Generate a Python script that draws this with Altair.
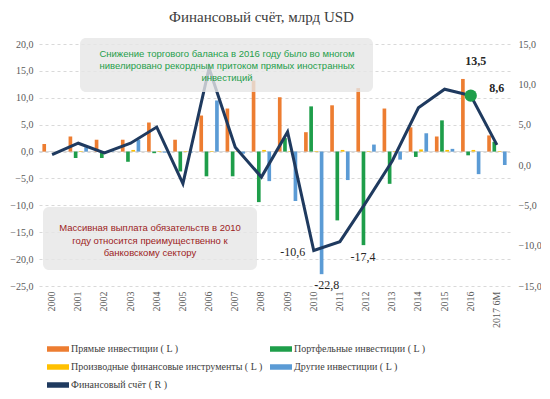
import altair as alt
import pandas as pd

# ---------------- data ----------------
cats = ["2000", "2001", "2002", "2003", "2004", "2005", "2006", "2007", "2008",
        "2009", "2010", "2011", "2012", "2013", "2014", "2015", "2016", "2017 6M"]
direct = [1.4, 2.8, 2.2, 2.2, 5.4, 2.2, 6.7, 8.0, 13.2, 10.1, 3.6, 8.6, 11.8, 8.0, 4.5, 2.8, 13.5, 3.0]
portfolio = [0.0, -1.2, -1.2, -1.9, -0.3, -3.7, -4.6, -4.6, -9.4, 2.5, 8.4, -12.8, -17.4, -6.0, -1.0, 5.8, -0.7, 1.8]
derivatives = [0.0, 0.1, 0.1, 0.3, 0.1, 0.1, 0.1, 0.1, 0.3, 0.1, 0.1, 0.3, 0.1, 0.1, 0.4, 0.3, 0.3, 0.1]
other = [0.0, 0.8, 0.1, 2.2, -0.2, -0.2, 9.5, -0.4, -5.5, -9.2, -22.8, -5.3, 1.3, -1.5, 3.4, 0.5, -4.2, -2.5]
fin_account = [1.3, 2.7, 1.5, 2.7, 4.7, -2.3, 12.0, 2.2, -1.5, 4.1, -10.6, -9.5, -4.6, 0.5, 7.1, 9.4, 8.6, 2.5]

series_names = ["Прямые инвестиции ( L )", "Портфельные инвестиции ( L )",
                "Производные финансовые  инструменты ( L )", "Другие инвестиции ( L )"]
line_name = "Финансовый счёт ( R )"
left_ticks = [-25, -20, -15, -10, -5, 0, 5, 10, 15, 20]
right_ticks = [-15, -10, -5, 0, 5, 10, 15]

title_text = "Финансовый счёт, млрд USD"
note1 = "Снижение торгового баланса в 2016 году было во многом\nнивелировано рекордным притоком прямых иностранных\nинвестиций"
note2 = "Массивная выплата обязательств в 2010\nгоду относится преимущественно к\nбанковскому сектору"

# ---------------- styling ----------------
colors = ["#ED7D31", "#1E9E4A", "#FFC000", "#5B9BD5"]
line_color = "#1F3A5F"
serif = "Liberation Serif"
sans = "Liberation Sans"


def fmt(v):
    return f"{v:.1f}".replace(".", ",")


rows = []
for i, c in enumerate(cats):
    for s, vals in zip(series_names, [direct, portfolio, derivatives, other]):
        rows.append({"cat": c, "series": s, "value": vals[i], "label": fmt(vals[i])})
bars_df = pd.DataFrame(rows)
line_df = pd.DataFrame({"cat": cats, "value": fin_account,
                        "label": [fmt(v) for v in fin_account]})
zero_df = pd.DataFrame({"value": [0]})

label_expr = "replace(format(datum.value, '.1f'), '.', ',')"

x_axis = alt.Axis(title=None, labelAngle=-90, domain=False, ticks=False,
                  labelPadding=5, labelFont=serif, labelFontSize=10,
                  labelColor="#595959", labelOverlap=False)
x_scale = alt.Scale(paddingInner=0.26, paddingOuter=0.13)
x_enc = alt.X("cat:N", sort=cats, scale=x_scale, axis=x_axis)

y_left = alt.Y("value:Q", scale=alt.Scale(domain=[-25, 20], nice=False, zero=False),
               axis=alt.Axis(title=None, values=left_ticks, labelExpr=label_expr,
                             grid=True, gridColor="#d9d9d9", gridDash=[3, 3],
                             labelOverlap=False, labelFont=serif, labelFontSize=10,
                             labelColor="#595959",
                             domain=False, ticks=False, labelPadding=6))

y_right = alt.Y("value:Q", scale=alt.Scale(domain=[-15, 15], nice=False, zero=False),
                axis=alt.Axis(title=None, orient="right", values=right_ticks,
                              labelExpr=label_expr, grid=False, domain=False,
                              labelOverlap=False, labelFont=serif, labelFontSize=10,
                              labelColor="#595959", ticks=False, labelPadding=8))

zero_rule = alt.Chart(zero_df).mark_rule(color="#d9d9d9", strokeWidth=1).encode(y=y_left)

bars = alt.Chart(bars_df).mark_bar().encode(
    x=x_enc,
    xOffset=alt.XOffset("series:N", sort=series_names,
                        scale=alt.Scale(paddingInner=0.3)),
    y=y_left,
    color=alt.Color("series:N",
                    scale=alt.Scale(domain=series_names + [line_name],
                                    range=colors + [line_color]),
                    legend=alt.Legend(title=None, orient="none", legendX=8, legendY=294,
                                      columns=2, direction="horizontal",
                                      symbolType="M-1,-0.25H1V0.25H-1Z", symbolSize=484,
                                      symbolStrokeWidth=0, labelFont=serif,
                                      labelFontSize=10, labelColor="#404040",
                                      labelOffset=2, columnPadding=4, rowPadding=2,
                                      labelLimit=400)),
)


def bar_label(cat, series, dx, dy, bold):
    return alt.Chart(bars_df).transform_filter(
        (alt.datum.cat == cat) & (alt.datum.series == series)
    ).mark_text(font=serif, fontSize=12, fontWeight="bold" if bold else "normal",
                color="#262626", dx=dx, dy=dy).encode(
        x=x_enc, y=y_left, text="label:N")


lbl_135 = bar_label("2016", series_names[0], 5, -18, True)
lbl_228 = bar_label("2010", series_names[3], 13, 11, False)
lbl_174 = bar_label("2012", series_names[1], -3, 12, False)

left = alt.layer(zero_rule, bars, lbl_135, lbl_228, lbl_174)

line = alt.Chart(line_df).mark_line(color=line_color, strokeWidth=3).encode(
    x=x_enc, y=y_right)

dot = alt.Chart(line_df).transform_filter(alt.datum.cat == "2016").mark_point(
    filled=True, size=150, color="#1E9E4A", opacity=1).encode(
    x=x_enc, y=y_right)


def line_label(cat, dx, dy, bold):
    return alt.Chart(line_df).transform_filter(alt.datum.cat == cat).mark_text(
        font=serif, fontSize=12, fontWeight="bold" if bold else "normal",
        color="#262626", dx=dx, dy=dy).encode(
        x=x_enc, y=y_right, text="label:N")


lbl_106 = line_label("2010", -21, 1, False)
lbl_86 = line_label("2016", 26, -8, True)

right = alt.layer(line, dot, lbl_106, lbl_86)

one = pd.DataFrame({"k": [0]})
box1 = alt.Chart(one).mark_rect(fill="#e6e6e6", opacity=0.8, cornerRadius=6).encode(
    x=alt.value(41), x2=alt.value(334), y=alt.value(-6), y2=alt.value(48))
box2 = alt.Chart(one).mark_rect(fill="#e6e6e6", opacity=0.8, cornerRadius=6).encode(
    x=alt.value(4), x2=alt.value(218), y=alt.value(163), y2=alt.value(226))
txt1 = alt.Chart(one).mark_text(text=note1, lineBreak="\n", lineHeight=12,
                                font=sans, fontSize=9.5, color="#1E9E4A",
                                align="center", baseline="middle").encode(
    x=alt.value(188), y=alt.value(10))
txt2 = alt.Chart(one).mark_text(text=note2, lineBreak="\n", lineHeight=12.5,
                                font=sans, fontSize=9.5, color="#9C1C1C",
                                align="center", baseline="middle").encode(
    x=alt.value(111), y=alt.value(184))

chart = alt.layer(left, right, box1, box2, txt1, txt2).resolve_scale(
    y="independent"
).properties(
    width=471, height=242,
    padding={"left": 31, "top": 36, "right": 31, "bottom": 108},
    autosize=alt.AutoSizeParams(type="none"),
    title=alt.Title(title_text, font=serif, fontSize=15, fontWeight="normal",
                    color="#404040", dx=-13, offset=13, anchor="middle"),
).configure_view(stroke=None).configure_axis(
    labelFont=serif, labelFontSize=10, labelColor="#595959", labelOverlap=False
)

chart.save("out.html", embed_options={"renderer": "svg", "actions": False})
